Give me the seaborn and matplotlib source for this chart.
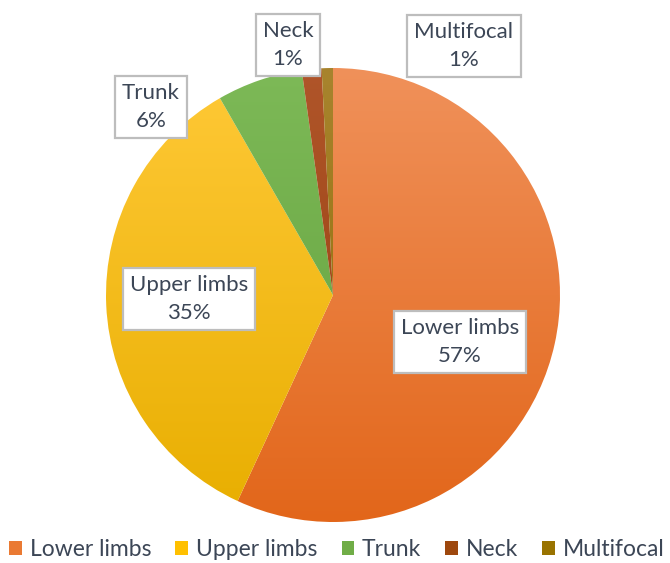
import numpy as np
import matplotlib
matplotlib.use("Agg")
import matplotlib.pyplot as plt
from matplotlib.patches import Patch
from matplotlib.colors import to_rgb
import seaborn as sns

categories = ["Lower limbs", "Upper limbs", "Trunk", "Neck", "Multifocal"]
values = [56.9, 34.8, 6.1, 1.4, 0.8]
label_pos = [(460, 342), (189, 299), (151, 107), (288, 45), (464, 46)]

top_colors = ["#F0915A", "#FFC937", "#7DB957", "#B0552A", "#A8842E"]
bot_colors = ["#E2661A", "#E8AE00", "#62A03C", "#933F0A", "#8C6800"]
legend_colors = sns.color_palette(["#EA7A33", "#FFC000", "#70AD47", "#9E480E", "#997300"])

sns.set_style("white")
plt.rcParams["font.family"] = ["Lato", "DejaVu Sans"]

W, H = 670, 563
fig = plt.figure(figsize=(W / 100, H / 100), dpi=100)
ax = fig.add_axes([0, 0, 1, 1])
ax.set_xlim(0, W)
ax.set_ylim(0, H)

cx, cy, r = 333, H - 295, 227
wedges, _ = ax.pie(values, startangle=90, counterclock=False, radius=r,
                   center=(cx, cy), frame=True,
                   wedgeprops=dict(linewidth=0))
ax.set_xlim(0, W)
ax.set_ylim(0, H)
ax.axis("off")

# vertical gradient fill clipped to each wedge
n = 256
for w, c1, c2 in zip(wedges, top_colors, bot_colors):
    a = np.array(to_rgb(c1))
    b = np.array(to_rgb(c2))
    t = np.linspace(0, 1, n)[:, None]
    grad = (a[None, :] * (1 - t) + b[None, :] * t)[:, None, :]
    grad = np.repeat(grad, 2, axis=1)
    im = ax.imshow(grad, extent=(cx - r, cx + r, cy - r, cy + r),
                   origin="upper", aspect="auto", zorder=w.get_zorder() + 0.1,
                   interpolation="bilinear")
    im.set_clip_path(w)
    w.set_facecolor("none")

total = sum(values)
for cat, v, (px, py) in zip(categories, values, label_pos):
    pct = int(round(v / total * 100))
    ax.text(px, H - py, f"{cat}\n{pct}%", ha="center", va="center",
            fontsize=16, color="#3C4656", linespacing=1.45, zorder=10,
            bbox=dict(boxstyle="square,pad=0.32", facecolor="white",
                      edgecolor="#BDBDBD", linewidth=1.6))

handles = [Patch(facecolor=c, edgecolor="none") for c in legend_colors]
leg = ax.legend(handles, categories, loc="center",
                bbox_to_anchor=(337 / W, 1 - 550 / H),
                bbox_transform=fig.transFigure, ncol=5, frameon=False,
                fontsize=16.5, handlelength=0.55, handleheight=0.55,
                handletextpad=0.35, columnspacing=1.05, borderpad=0)
for t in leg.get_texts():
    t.set_color("#3C4656")

fig.savefig("out.png", dpi=100)
